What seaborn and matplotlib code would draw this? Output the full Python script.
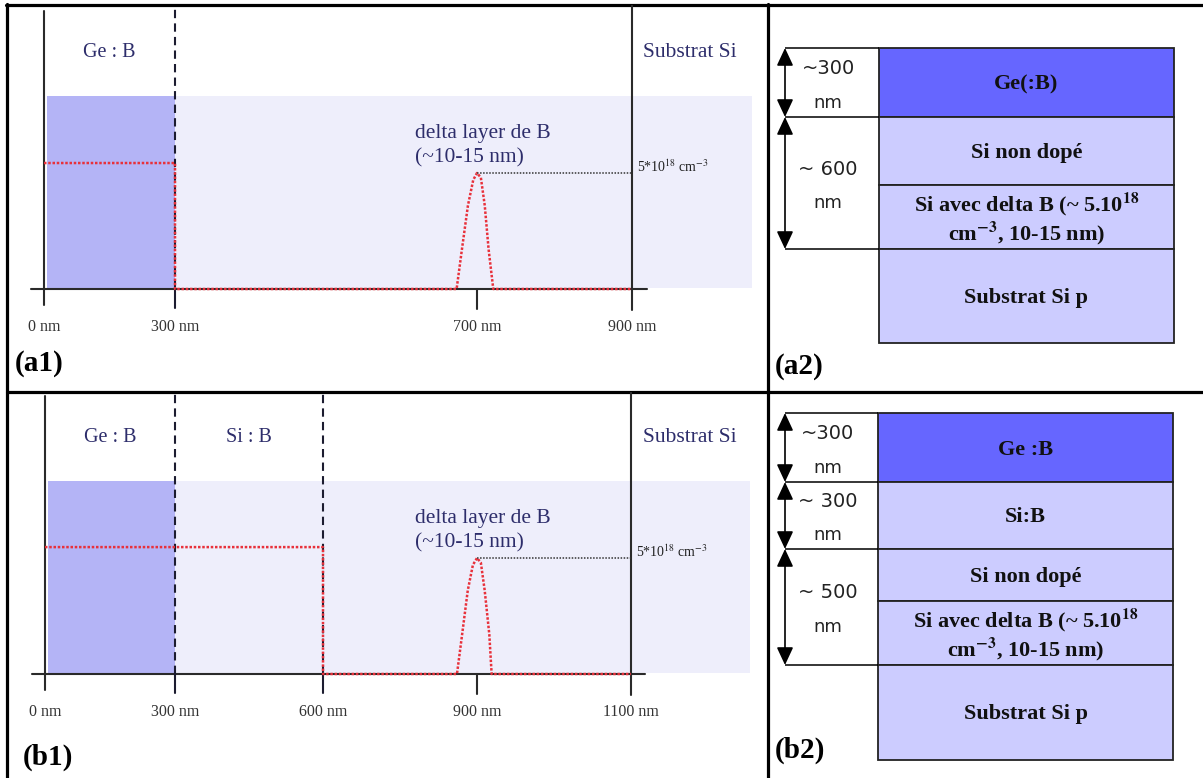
import numpy as np
import matplotlib
matplotlib.use("Agg")
import matplotlib.pyplot as plt
import seaborn as sns

# ---- data -------------------------------------------------------------
# (a1) profile: Ge:B on Si with a boron delta layer
a1_ticks = [0, 300, 700, 900]
a1_tick_labels = ["0 nm", "300 nm", "700 nm", "900 nm"]
a1_interfaces = [300]
a1_substrate = 900
a1_layer_names = ["Ge : B"]
a1_layer_mids = [150]
a1_profile_nm = [0, 300, 300, 673, 680, 688, 695, 700, 705, 710, 715, 721, 900]
a1_profile_conc = [5.43, 5.43, 0, 0, 1.7, 3.6, 4.7, 5.0, 4.8, 3.6, 1.7, 0, 0]
a1_peak = (700, 5.0)

# (b1) profile: Ge:B / Si:B on Si with a boron delta layer
b1_ticks = [0, 300, 600, 900, 1100]
b1_tick_labels = ["0 nm", "300 nm", "600 nm", "900 nm", "1100 nm"]
b1_interfaces = [300, 600]
b1_substrate = 1100
b1_layer_names = ["Ge : B", "Si : B"]
b1_layer_mids = [150, 450]
b1_profile_nm = [0, 600, 600, 861, 871, 882, 892, 900, 905, 910, 916, 919, 1100]
b1_profile_conc = [5.47, 5.47, 0, 0, 1.7, 3.6, 4.7, 5.0, 4.8, 3.6, 1.7, 0, 0]
b1_peak = (900, 5.0)

# (a2) / (b2) layer stacks
a2_layers = ["Ge(:B)", "Si non dopé",
             "Si avec delta B (~ 5.10$^{\\mathbf{18}}$\ncm$^{\\mathbf{-3}}$, 10-15 nm)",
             "Substrat Si p"]
a2_thickness = ["~300", "~ 600"]
b2_layers = ["Ge :B", "Si:B", "Si non dopé",
             "Si avec delta B (~ 5.10$^{\\mathbf{18}}$\ncm$^{\\mathbf{-3}}$, 10-15 nm)",
             "Substrat Si p"]
b2_thickness = ["~300", "~ 300", "~ 500"]

# ---- style ------------------------------------------------------------
sns.set_style("white")
plt.rcParams["font.family"] = ["Liberation Serif", "DejaVu Serif"]
plt.rcParams["mathtext.fontset"] = "stix"

W, H = 1203, 778
NAVY = "#2d2d6b"
RED = "#e8313b"
GE_DARK = "#b4b4f6"
SI_LIGHT = "#eeeefb"
PX_PER_UNIT = 23.2

fig = plt.figure(figsize=(W / 100, H / 100), dpi=100)
frame = fig.add_axes([0, 0, 1, 1])
frame.set_xlim(0, W)
frame.set_ylim(H, 0)
frame.axis("off")


def piecewise(v, xp, fp):
    v = np.asarray(v, dtype=float)
    out = np.interp(v, xp, fp)
    s0 = (fp[1] - fp[0]) / (xp[1] - xp[0])
    s1 = (fp[-1] - fp[-2]) / (xp[-1] - xp[-2])
    out = np.where(v < xp[0], fp[0] + (v - xp[0]) * s0, out)
    out = np.where(v > xp[-1], fp[-1] + (v - xp[-1]) * s1, out)
    return out


def profile_panel(box, base_px, ticks, tick_px, tick_labels, interfaces, substrate,
                  names, mids, prof_x, prof_y, peak, si_end, sub_label_x, axis_ext):
    x0, y0, x1, y1 = box
    ax = fig.add_axes([x0 / W, 1 - y1 / H, (x1 - x0) / W, (y1 - y0) / H])
    ax.set_facecolor("none")
    fwd = lambda v: piecewise(v, ticks, tick_px)
    inv = lambda p: piecewise(p, tick_px, ticks)
    ax.set_xscale("function", functions=(fwd, inv))
    ax.set_xlim(float(inv(x0)), float(inv(x1)))
    ax.set_ylim((base_px - y1) / PX_PER_UNIT, (base_px - y0) / PX_PER_UNIT)
    ax.axis("off")

    top = ax.get_ylim()[1]
    # layer shading
    ax.fill_between([interfaces[0], si_end], 0.05, 8.3, color=SI_LIGHT, lw=0, zorder=0)
    ax.fill_between([6, interfaces[0]], 0.05, 8.3, color=GE_DARK, lw=0, zorder=0)

    # axes lines
    ax.plot([0, 0], [-0.7, 12.0], color="#2a2a2a", lw=1.5, zorder=3)
    ax.plot([axis_ext[0], axis_ext[1]], [0, 0], color="#2a2a2a", lw=1.5, zorder=3)
    ax.plot([substrate, substrate], [-0.9, top], color="#2a2a2a", lw=1.5, zorder=3)
    for xb in interfaces:
        ax.plot([xb, xb], [0, top - 0.1], color="#1c1c30", lw=1.5,
                ls=(0, (4, 2.5)), zorder=3)
        ax.plot([xb, xb], [-0.8, 0], color="#1c1c30", lw=1.5, zorder=3)
    for t in ticks:
        if t not in interfaces and t not in (0, substrate):
            ax.plot([t, t], [-0.85, 0], color="#2a2a2a", lw=1.5, zorder=3)

    # doping profile
    sns.lineplot(x=prof_x, y=prof_y, sort=False, estimator=None, ax=ax,
                 color=RED, lw=1.8, linestyle=(0, (1, 0.7)), zorder=4)
    ax.plot([peak[0], substrate], [peak[1], peak[1]], color="#333333", lw=1.1,
            ls=(0, (1, 1)), zorder=4)

    # texts
    for t, lab in zip(ticks, tick_labels):
        ax.annotate(lab, xy=(t, 0), xytext=(0, -38), textcoords="offset pixels",
                    ha="center", va="center", fontsize=11.5, color="#333333")
    for name, m in zip(names, mids):
        ax.text(m, 10.2, name, ha="center", va="center", fontsize=14.5, color=NAVY)
    ax.text(sub_label_x, 10.2, "Substrat Si", ha="center", va="center",
            fontsize=15.5, color=NAVY)
    ax.annotate("delta layer de B\n(~10-15 nm)", xy=peak, xytext=(-62, 6),
                textcoords="offset pixels", ha="left", va="bottom", fontsize=15.5,
                color=NAVY, linespacing=1.3)
    ax.annotate("5*10$^{18}$ cm$^{-3}$", xy=(substrate, peak[1]), xytext=(5, -2),
                textcoords="offset pixels", ha="left", va="bottom", fontsize=10,
                color="#222222")
    return ax


def stack_panel(names, colors, edges, groups, thick, x_arrow, x_block, x_right):
    edges = np.asarray(edges, dtype=float)
    tops = edges[:-1]
    heights = np.diff(edges)
    xc = (x_block + x_right) / 2
    frame.bar([xc] * len(names), heights, bottom=tops, width=x_right - x_block,
              color=colors, edgecolor="#222222", linewidth=1.3, zorder=2)
    for name, t, h in zip(names, tops, heights):
        frame.text(xc, t + h / 2 + 2, name, ha="center", va="center", fontsize=16,
                   fontweight="bold", color="#111111", linespacing=1.05, zorder=3)
    lines = sorted({g[0] for g in groups} | {g[1] for g in groups})
    frame.hlines(edges[lines], x_arrow, x_block, color="black", lw=1.1, zorder=3)
    xl = (x_arrow + x_block) / 2
    for (i, j), lab in zip(groups, thick):
        frame.annotate("", xy=(x_arrow, edges[j]), xytext=(x_arrow, edges[i]),
                       arrowprops=dict(arrowstyle="<|-|>,head_length=0.6,head_width=0.28",
                                       color="black", lw=1.2, shrinkA=0, shrinkB=0,
                                       mutation_scale=18), zorder=3)
        c = (edges[i] + edges[j]) / 2
        frame.text(xl - 4, c - 14, lab, ha="center", va="center", fontsize=14,
                   family="DejaVu Sans", color="#222222")
        frame.text(xl - 4, c + 20, "nm", ha="center", va="center", fontsize=13,
                   family="DejaVu Sans", color="#222222")


profile_panel((7, 5, 768, 392), 289, a1_ticks, [44, 175, 477, 632], a1_tick_labels,
              a1_interfaces, a1_substrate, a1_layer_names, a1_layer_mids,
              a1_profile_nm, a1_profile_conc, a1_peak, 1055, 975, (-30, 919))
profile_panel((7, 392, 768, 778), 674, b1_ticks, [45, 175, 323, 477, 631], b1_tick_labels,
              b1_interfaces, b1_substrate, b1_layer_names, b1_layer_mids,
              b1_profile_nm, b1_profile_conc, b1_peak, 1255, 1177, (-30, 1118))

stack_panel(a2_layers, ["#6666ff", "#ccccff", "#ccccff", "#ccccff"],
            [48, 117, 185, 249, 343], [(0, 1), (1, 3)], a2_thickness, 785, 879, 1174)
stack_panel(b2_layers, ["#6666ff", "#ccccff", "#ccccff", "#ccccff", "#ccccff"],
            [413, 482, 549, 601, 665, 760], [(0, 1), (1, 2), (2, 4)], b2_thickness,
            785, 878, 1173)

# table frame and panel labels
frame.plot([6, W], [5, 5], color="black", lw=2.3, zorder=5)
frame.plot([7, 7], [4, H], color="black", lw=2.3, zorder=5)
frame.plot([768, 768], [4, H], color="black", lw=2.3, zorder=5)
frame.plot([7, W], [392, 392], color="black", lw=2.3, zorder=5)
for lab, x, y in [("(a1)", 15, 363), ("(a2)", 775, 366), ("(b1)", 23, 757), ("(b2)", 775, 750)]:
    frame.text(x, y, lab, ha="left", va="center", fontsize=21, fontweight="bold",
               color="black", zorder=5)

fig.savefig("out.png", dpi=100)
